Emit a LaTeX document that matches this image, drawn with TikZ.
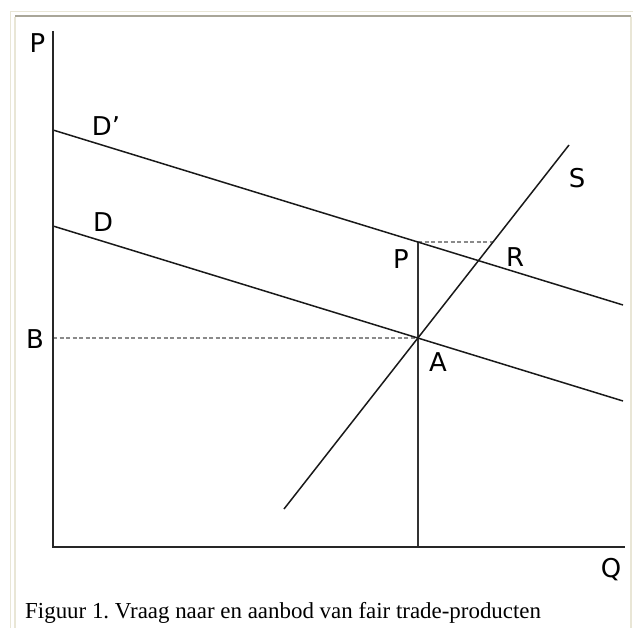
\documentclass[tikz,border=0pt]{standalone}
\usepackage{fontspec}
\setmainfont{Liberation Serif}
\newfontfamily\lblfont{DejaVu Sans}
\usetikzlibrary{positioning, calc}

\definecolor{framebeige}{HTML}{E9E6D6}
\definecolor{framegray}{HTML}{A9A698}
\definecolor{dashgray}{HTML}{8A8A8A}

\begin{document}
\frenchspacing
\begin{tikzpicture}[x=1bp, y=-1bp,
    lbl/.style={inner sep=0pt, font=\lblfont\fontsize{26}{26}\selectfont},
    axis/.style={line width=2.2pt, draw=black!85},
    curve/.style={line width=1.5pt, draw=black!90},
    guide/.style={line width=1.8bp, dash pattern=on 4bp off 2.5bp, draw=dashgray}
]
    % frame and canvas
    \useasboundingbox (0,0) rectangle (633,628);
    \fill[white] (0,0) rectangle (633,628);
    \draw[framebeige, line width=1.5bp] (10.5,640) -- (10.5,11.5) -- (633,11.5);
    \draw[framegray, line width=1.2bp] (15,16) -- (630.5,16);
    \draw[framebeige, line width=1.2bp] (15,17) -- (15,640);
    \draw[framebeige, line width=2bp] (630.5,17) -- (630.5,640);

    % points
    \coordinate (o) at (53,547);
    \coordinate (ptop) at (53,31);
    \coordinate (qend) at (625,547);
    \coordinate (d2a) at (53,130);
    \coordinate (d2b) at (623,305);
    \coordinate (d1a) at (53,226);
    \coordinate (d1b) at (623,401);
    \coordinate (sa) at (284,509);
    \coordinate (sb) at (569,145);
    \coordinate (A) at (418,338);
    \coordinate (Pp) at (418,242);
    \coordinate (Sp) at (493,242);
    \coordinate (Bp) at (53,338);
    \coordinate (Qp) at (418,547);

    % guides
    \draw[guide] (Bp) -- (A);
    \draw[guide] (Pp) -- (Sp);
    \draw[line width=1.3pt, draw=black!80] (Pp) -- (Qp);

    % curves
    \draw[curve] (d2a) -- (d2b);
    \draw[curve] (d1a) -- (d1b);
    \draw[curve] (sa) -- (sb);

    % axes
    \draw[axis] (ptop) -- (o) -- (qend);

    % labels
    \node[lbl] (lP) at (37.5,43) {P};
    \node[lbl] (lQ) at (611,570) {Q};
    \node[lbl] (lD2) at (106,126) {D’};
    \node[lbl] (lD1) at (103,222) {D};
    \node[lbl] (lB) at (35,339) {B};
    \node[lbl] (lP2) at (401,259) {P};
    \node[lbl] (lR) at (515,257) {R};
    \node[lbl] (lA) at (438,362) {A};
    \node[lbl] (lS) at (577,178) {S};

    % caption
    \node[anchor=base west, inner sep=0pt, font=\fontsize{23}{25}\selectfont] (cap) at (25,618)
        {Figuur 1. Vraag naar en aanbod van fair trade-producten};
\end{tikzpicture}
\end{document}
